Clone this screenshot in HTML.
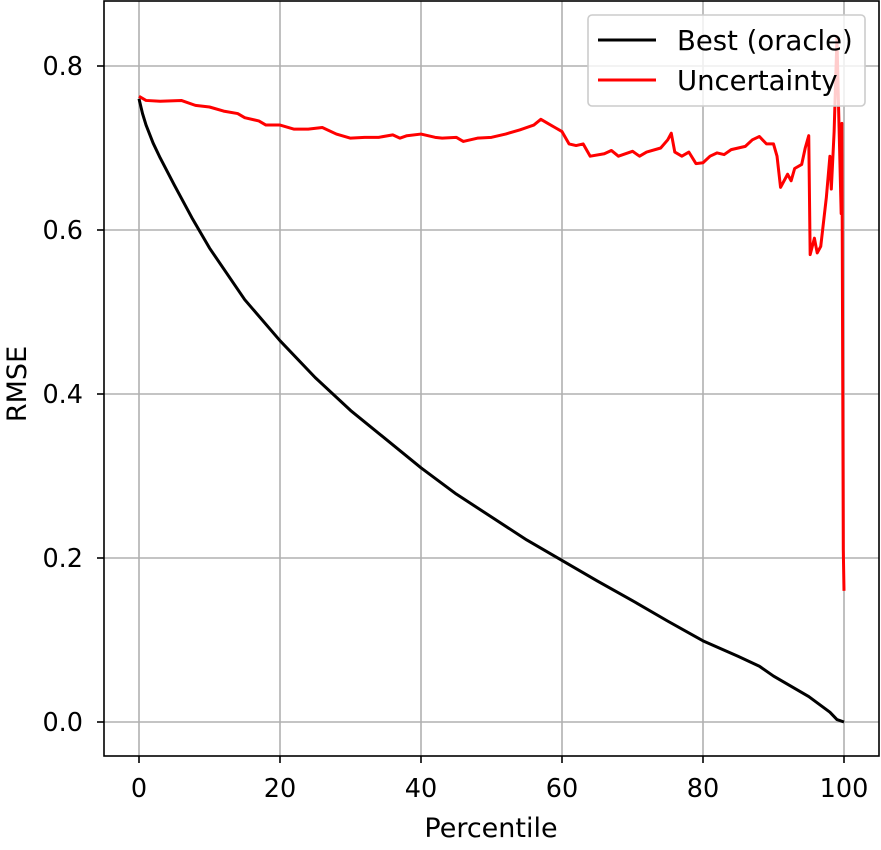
<!DOCTYPE html>
<html><head><meta charset="utf-8"><style>body{margin:0;background:#fff}svg text{font-family:"DejaVu Sans","Liberation Sans",sans-serif;fill:#000}</style></head>
<body>
<svg id="c" width="881" height="845"></svg>
<script>
const bestX=[0,0.5,1,2,3,5,7.5,10,15,20,25,30,35,40,45,50,55,60,65,70,75,80,85,88,90,95,98,99,100];
const bestY=[0.76,0.742,0.728,0.706,0.688,0.655,0.615,0.578,0.515,0.465,0.42,0.38,0.345,0.31,0.278,0.25,0.222,0.197,0.172,0.148,0.123,0.099,0.08,0.068,0.056,0.031,0.012,0.003,0.0];
const uncX=[0,1,3,6,8,10,12,14,15,17,18,20,22,24,26,28,30,32,34,36,37,38,40,42,43,45,46,48,50,52,54,56,57,58,59,60,61,62,63,64,66,67,68,70,71,72,74,75,75.5,76,77,78,79,80,81,82,83,84,85,86,87,88,89,90,90.5,91,92,92.5,93,94,94.5,95,95.2,95.8,96.2,96.7,97.5,98,98.2,98.6,99,99.2,99.4,99.6,99.7,99.9,100];
const uncY=[0.763,0.758,0.757,0.758,0.752,0.75,0.745,0.742,0.737,0.733,0.728,0.728,0.723,0.723,0.725,0.717,0.712,0.713,0.713,0.716,0.712,0.715,0.717,0.713,0.712,0.713,0.708,0.712,0.713,0.717,0.722,0.728,0.735,0.73,0.725,0.72,0.705,0.703,0.705,0.69,0.693,0.697,0.69,0.696,0.69,0.695,0.7,0.71,0.718,0.695,0.69,0.695,0.681,0.682,0.69,0.694,0.692,0.698,0.7,0.702,0.71,0.714,0.705,0.705,0.69,0.652,0.668,0.66,0.675,0.68,0.7,0.715,0.57,0.59,0.572,0.58,0.64,0.69,0.65,0.72,0.835,0.76,0.69,0.62,0.73,0.21,0.16];
const xTicks=[0,20,40,60,80,100];
const yTicks=[0.0,0.2,0.4,0.6,0.8];
const NS="http://www.w3.org/2000/svg";
const svg=document.getElementById('c');
const L=104,R=879,T=1,B=756;
const sx=v=>139+v*7.05, sy=v=>722-v*820;
function mk(t,a,p){const e=document.createElementNS(NS,t);for(const k in a)e.setAttribute(k,a[k]);(p||svg).appendChild(e);return e;}
xTicks.forEach(v=>{
 const g=mk('line',{x1:sx(v),x2:sx(v),y1:T,y2:B,stroke:'#b0b0b0','stroke-width':1.6});
 
 
 mk('line',{x1:sx(v),x2:sx(v),y1:B,y2:B+7,stroke:'#000','stroke-width':1.6});
 const t=mk('text',{x:sx(v),y:797,'text-anchor':'middle','font-size':25.5});t.textContent=v;
 
 
});
yTicks.forEach(v=>{
 const g=mk('line',{x1:L,x2:R,y1:sy(v),y2:sy(v),stroke:'#b0b0b0','stroke-width':1.6});
 
 
 mk('line',{x1:L-7,x2:L,y1:sy(v),y2:sy(v),stroke:'#000','stroke-width':1.6});
 const t=mk('text',{x:83,y:sy(v)+9,'text-anchor':'end','font-size':25.5});t.textContent=v.toFixed(1);
 
 
});
const pb=mk('polyline',{points:bestX.map((x,i)=>sx(x)+','+sy(bestY[i])).join(' '),fill:'none',stroke:'#000','stroke-width':3,'stroke-linejoin':'round'});


const pu=mk('polyline',{points:uncX.map((x,i)=>sx(x)+','+sy(uncY[i])).join(' '),fill:'none',stroke:'#f00','stroke-width':3,'stroke-linejoin':'round'});


const fr=mk('rect',{x:L,y:T,width:R-L,height:B-T,fill:'none',stroke:'#000','stroke-width':1.6});


const lg=mk('g',{});


mk('rect',{x:588,y:15,width:277,height:91,rx:4,fill:'#fff','fill-opacity':0.8,stroke:'#ccc','stroke-width':1.6},lg);
mk('line',{x1:598,x2:656,y1:40,y2:40,stroke:'#000','stroke-width':3},lg);
mk('line',{x1:598,x2:656,y1:80,y2:80,stroke:'#f00','stroke-width':3},lg);
const l1=mk('text',{x:677,y:50,'font-size':27.5},lg);l1.textContent='Best (oracle)';


const l2=mk('text',{x:677,y:90,'font-size':27.5},lg);l2.textContent='Uncertainty';


const xt=mk('text',{x:491,y:837,'text-anchor':'middle','font-size':27});xt.textContent='Percentile';


const yt=mk('text',{x:26,y:384,'text-anchor':'middle','font-size':27,transform:'rotate(-90 26 384)'});yt.textContent='RMSE';


</script>
</body></html>
